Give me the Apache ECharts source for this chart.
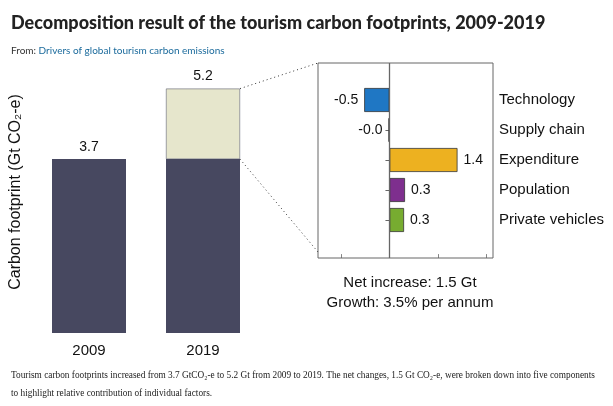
<!DOCTYPE html>
<html><head><meta charset="utf-8">
<script src="https://cdn.jsdelivr.net/npm/echarts@6/dist/echarts.min.js"></script>
<style>html,body{margin:0;background:#fff}#c{width:613px;height:406px}</style>
</head><body><div id="c"></div>
<script>
const years = ['2009', '2019'];
const base = [3.7, 3.7];
const increase = [null, 1.5];
const totals = ['3.7', '5.2'];
const factors = ['Technology', 'Supply chain', 'Expenditure', 'Population', 'Private vehicles'];
const effects = [-0.52, -0.02, 1.4, 0.32, 0.3];
const effectLabels = ['-0.5', '-0.0', '1.4', '0.3', '0.3'];
const factorColors = ['#1f77c4', '#777777', '#edb120', '#7e2f8e', '#77ac30'];

const chart = echarts.init(document.getElementById('c'));
const sans = 'Liberation Sans';
chart.setOption({
    animation: false,
    textStyle: {fontFamily: sans},
    title: [
        {text: 'Decomposition result of the tourism carbon footprints, 2009-2019', left: 6, top: 9,
         textStyle: {fontFamily: 'Lato', fontSize: 18, fontWeight: 900, color: '#222'}},
        {text: 'From: {l|Drivers of global tourism carbon emissions}', left: 6, top: 41,
         textStyle: {fontFamily: 'Lato', fontSize: 10, fontWeight: 'normal', color: '#333',
             rich: {l: {fontFamily: 'Lato', fontSize: 10, color: '#1a6a9c', textDecoration: 'underline'}}}},
        {text: 'Net increase: 1.5 Gt\nGrowth: 3.5% per annum', left: 405, top: 268, textAlign: 'center',
         textStyle: {fontSize: 15, fontWeight: 'normal', color: '#111', lineHeight: 20}},
        {text: 'Tourism carbon footprints increased from 3.7 GtCO₂-e to 5.2 Gt from 2009 to 2019. The net changes, 1.5 Gt CO₂-e, were broken down into five components\nto highlight relative contribution of individual factors.',
         left: 6, top: 362, textStyle: {fontFamily: 'Liberation Serif', fontSize: 9.3, fontWeight: 'normal', color: '#222', lineHeight: 18}}
    ],
    grid: [
        {left: 32, top: 51, width: 228, height: 282},
        {left: 318, top: 85, width: 175, height: 150},
        {left: 318, top: 63, width: 175, height: 195, show: true, borderColor: '#666', borderWidth: 1}
    ],
    xAxis: [
        {gridIndex: 0, type: 'category', data: years, axisLine: {show: false}, axisTick: {show: false},
         axisLabel: {fontSize: 15, color: '#111', margin: 10}},
        {gridIndex: 1, type: 'value', min: -1.47, max: 2.13, show: false},
        {gridIndex: 2, type: 'value', min: -1.47, max: 2.13, show: false}
    ],
    yAxis: [
        {gridIndex: 0, type: 'value', min: 0, max: 6, axisLine: {show: false}, axisTick: {show: false},
         axisLabel: {show: false}, splitLine: {show: false},
         name: 'Carbon footprint (Gt CO₂-e)', nameLocation: 'middle', nameGap: 8,
         nameTextStyle: {fontSize: 16, color: '#111'}},
        {gridIndex: 1, type: 'category', data: factors, inverse: true, position: 'right',
         axisLine: {show: false}, axisTick: {show: true, inside: true, length: 4, alignWithLabel: true, lineStyle: {color: '#666'}},
         axisLabel: {fontSize: 15, color: '#111', margin: 6}},
        {gridIndex: 2, type: 'value', min: 0, max: 1, show: false}
    ],
    series: [
        {type: 'bar', xAxisIndex: 0, yAxisIndex: 0, stack: 't', data: base, barWidth: 74,
         itemStyle: {color: '#474860'},
         label: {show: true, position: 'top', fontSize: 14, color: '#111', formatter: p => p.dataIndex === 0 ? totals[0] : ''}},
        {type: 'bar', xAxisIndex: 0, yAxisIndex: 0, stack: 't', data: increase, barWidth: 74,
         itemStyle: {color: '#e6e6cc', borderColor: '#474860', borderWidth: 0.5},
         label: {show: true, position: 'top', fontSize: 14, color: '#111', formatter: p => totals[p.dataIndex]}},
        {type: 'bar', xAxisIndex: 1, yAxisIndex: 1, barWidth: '80%',
         data: effects.map((v, i) => ({value: v, itemStyle: {color: factorColors[i]},
             label: {position: v < 0 ? 'left' : 'right'}})),
         itemStyle: {borderColor: '#333', borderWidth: 0.8},
         label: {show: true, fontSize: 14, color: '#111', distance: 6, formatter: p => effectLabels[p.dataIndex]}},
        {type: 'line', xAxisIndex: 2, yAxisIndex: 2, data: [],
         markLine: {silent: true, symbol: 'none', label: {show: false}, lineStyle: {color: '#666', type: 'solid', width: 0.8},
             data: [[{coord: [0, 0]}, {coord: [0, 1], lineStyle: {width: 1.3}}]].concat(
                 [-1, 0, 1, 2].map(v => [{coord: [v, 0]}, {coord: [v, 0.02]}]))}}
    ]
});

// dotted connectors from the 2019 increase segment to the zoom box
const topRight = chart.convertToPixel({xAxisIndex: 0, yAxisIndex: 0}, ['2019', 5.2]);
const midRight = chart.convertToPixel({xAxisIndex: 0, yAxisIndex: 0}, ['2019', 3.7]);
const barEdge = topRight[0] + 37;
chart.setOption({
    graphic: [
        {type: 'line', shape: {x1: barEdge, y1: topRight[1], x2: 318, y2: 63}, style: {stroke: '#333', lineDash: [1, 3], lineWidth: 1}},
        {type: 'line', shape: {x1: barEdge, y1: midRight[1], x2: 318, y2: 252}, style: {stroke: '#333', lineDash: [1, 3], lineWidth: 1}}
    ]
});
</script></body></html>
